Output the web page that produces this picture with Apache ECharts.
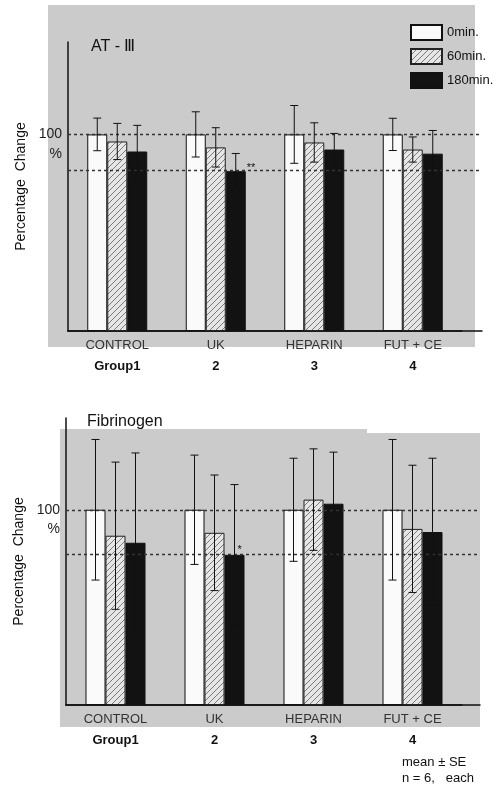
<!DOCTYPE html>
<html>
<head>
<meta charset="utf-8">
<script src="https://cdn.jsdelivr.net/npm/echarts@6/dist/echarts.min.js"></script>
<style>
  html, body { margin: 0; padding: 0; background: #fff; }
  #chart { width: 499px; height: 788px; }
</style>
</head>
<body>
<div id="chart"></div>
<script>
// groups and times
var groups = ['CONTROL', 'UK', 'HEPARIN', 'FUT + CE'];
var groupNums = ['Group1', '2', '3', '4'];
var times = ['0min.', '60min.', '180min.'];

// AT-III, % of 0 min, mean and SE
var at0 = [100, 100, 100, 100];
var at60 = [96.4, 93.4, 95.9, 92.3];
var at180 = [91.3, 81.3, 92.3, 90.2];
var atSe0 = [8.3, 11.5, 14.7, 8.2];
var atSe60 = [9.2, 10, 10, 6.4];
var atSe180 = [13.3, 9, 8.2, 11.8];
var atRef = [100, 82];

// Fibrinogen
var fib0 = [100, 100, 100, 100];
var fib60 = [86.7, 88.2, 105.2, 90.2];
var fib180 = [83.1, 76.9, 103.1, 88.6];
var fibSe0 = [36, 28, 26.4, 36];
var fibSe60 = [37.7, 29.6, 26, 32.6];
var fibSe180 = [46, 36, 26.4, 37.8];
var fibRef = [100, 77];

var yMax = 147;
var font = 'Liberation Sans';

// hatch pattern for the 60 min bars
var hatch = document.createElement('canvas');
hatch.width = 6; hatch.height = 6;
var hc = hatch.getContext('2d');
hc.fillStyle = '#e6e6e6';
hc.fillRect(0, 0, 6, 6);
hc.strokeStyle = '#7a7a7a';
hc.lineWidth = 1;
hc.beginPath();
hc.moveTo(0, 6); hc.lineTo(6, 0);
hc.moveTo(-1, 1); hc.lineTo(1, -1);
hc.moveTo(5, 7); hc.lineTo(7, 5);
hc.stroke();

var barStyles = [
    { color: '#fafafa', borderColor: '#111', borderWidth: 1 },
    { color: { image: hatch, repeat: 'repeat' }, borderColor: '#222', borderWidth: 1 },
    { color: '#121212', borderColor: '#111', borderWidth: 1 }
];

function grids(top, left, width, height) {
    return [
        { left: left, top: top, width: width, height: height },
        { left: left, top: top, width: 414, height: height }
    ];
}

function xAxes(gi) {
    return [{
        type: 'category', gridIndex: gi, data: groups,
        axisLine: { lineStyle: { color: '#111', width: 1.5 } },
        axisTick: { length: 4, lineStyle: { color: '#111' } },
        axisLabel: {
            margin: 4, interval: 0,
            formatter: function (v, i) {
                return '{c|' + v + '}\n{g|' + groupNums[i] + '}';
            },
            rich: {
                c: { fontFamily: font, fontSize: 13, color: '#333', lineHeight: 21 },
                g: { fontFamily: font, fontSize: 13, fontWeight: 'bold', color: '#111', lineHeight: 21 }
            }
        }
    }, {
        type: 'value', gridIndex: gi + 1, min: 0, max: 1, show: true,
        axisLine: { lineStyle: { color: '#111', width: 1.5 } },
        axisTick: { show: false }, axisLabel: { show: false }, splitLine: { show: false }
    }];
}

function yAxes(gi) {
    return [{
        type: 'value', gridIndex: gi, min: 0, max: yMax,
        name: 'Percentage  Change', nameLocation: 'middle', nameGap: 40,
        nameTextStyle: { fontFamily: font, fontSize: 14, color: '#111' },
        axisLine: { show: true, lineStyle: { color: '#111', width: 1.5 } },
        axisTick: { show: false },
        splitLine: { show: false },
        axisLabel: {
            customValues: [100, 90], margin: 6,
            fontFamily: font, fontSize: 14, color: '#222',
            formatter: function (v) { return v === 100 ? '100' : '%'; }
        }
    }, {
        type: 'value', gridIndex: gi + 1, min: 0, max: yMax, show: false
    }];
}

function chartSeries(gi, means, ses, ref, star) {
    var out = [];
    means.forEach(function (m, k) {
        out.push({
            name: times[k], type: 'bar', xAxisIndex: gi, yAxisIndex: gi,
            barWidth: 20, barGap: '0%',
            itemStyle: barStyles[k],
            data: m.map(function (v, i) {
                if (star && star.series === k && star.index === i) {
                    return {
                        value: v,
                        label: {
                            show: true, formatter: star.text, position: star.pos,
                            fontSize: 11, color: '#111', fontFamily: font
                        }
                    };
                }
                return v;
            })
        });
    });
    means.forEach(function (m, k) {
        var off = (k - 1) * 20;
        out.push({
            type: 'custom', xAxisIndex: gi, yAxisIndex: gi, z: 5, silent: true,
            data: m.map(function (v, i) { return [i, v, ses[k][i]]; }),
            renderItem: function (params, api) {
                var i = api.value(0), v = api.value(1), se = api.value(2);
                var x = api.coord([i, v])[0] + off;
                var y1 = api.coord([i, v + se])[1];
                var y2 = api.coord([i, v - se])[1];
                var st = { stroke: '#111', lineWidth: 1 };
                return {
                    type: 'group',
                    children: [
                        { type: 'line', shape: { x1: x, y1: y1, x2: x, y2: y2 }, style: st },
                        { type: 'line', shape: { x1: x - 4, y1: y1, x2: x + 4, y2: y1 }, style: st },
                        { type: 'line', shape: { x1: x - 4, y1: y2, x2: x + 4, y2: y2 }, style: st }
                    ]
                };
            }
        });
    });
    out.push({
        type: 'line', xAxisIndex: gi + 1, yAxisIndex: gi + 1, data: [],
        markLine: {
            silent: true, symbol: 'none',
            label: { show: false },
            lineStyle: { color: '#333', width: 1.3, type: [3, 3] },
            data: ref.map(function (v) { return { yAxis: v }; })
        }
    });
    return out;
}

var chart = echarts.init(document.getElementById('chart'), null, { renderer: 'canvas' });

chart.setOption({
    animation: false,
    textStyle: { fontFamily: font },
    title: [
        { text: 'AT - Ⅲ', left: 86, top: 34, textStyle: { fontFamily: font, fontSize: 16, fontWeight: 'normal', color: '#111' } },
        { text: 'Fibrinogen', left: 82, top: 409, textStyle: { fontFamily: font, fontSize: 16, fontWeight: 'normal', color: '#111' } }
    ],
    legend: {
        data: times, orient: 'vertical', left: 405, top: 19,
        itemWidth: 31, itemHeight: 15, itemGap: 7, icon: 'rect',
        textStyle: { fontFamily: font, fontSize: 13, color: '#111' }
    },
    grid: grids(42, 68, 394, 289).concat(grids(418, 66, 396, 287)),
    xAxis: xAxes(0).concat(xAxes(2)),
    yAxis: yAxes(0).concat(yAxes(2)),
    graphic: [
        { type: 'rect', z: -10, silent: true, shape: { x: 48, y: 5, width: 427, height: 342 }, style: { fill: '#cbcbcb' } },
        { type: 'rect', z: -10, silent: true, shape: { x: 60, y: 429, width: 307, height: 298 }, style: { fill: '#cbcbcb' } },
        { type: 'rect', z: -10, silent: true, shape: { x: 367, y: 433, width: 113, height: 294 }, style: { fill: '#cbcbcb' } },
        { type: 'text', left: 402, top: 756, style: { text: 'mean ± SE', font: '13px "Liberation Sans"', fill: '#111' } },
        { type: 'text', left: 402, top: 772, style: { text: 'n = 6,   each', font: '13px "Liberation Sans"', fill: '#111' } }
    ],
    series: chartSeries(0, [at0, at60, at180], [atSe0, atSe60, atSe180], atRef,
                        { series: 2, index: 1, text: '**', pos: [21, -9] })
        .concat(chartSeries(2, [fib0, fib60, fib180], [fibSe0, fibSe60, fibSe180], fibRef,
                        { series: 2, index: 1, text: '*', pos: [13, -10] }))
});
</script>
</body>
</html>
